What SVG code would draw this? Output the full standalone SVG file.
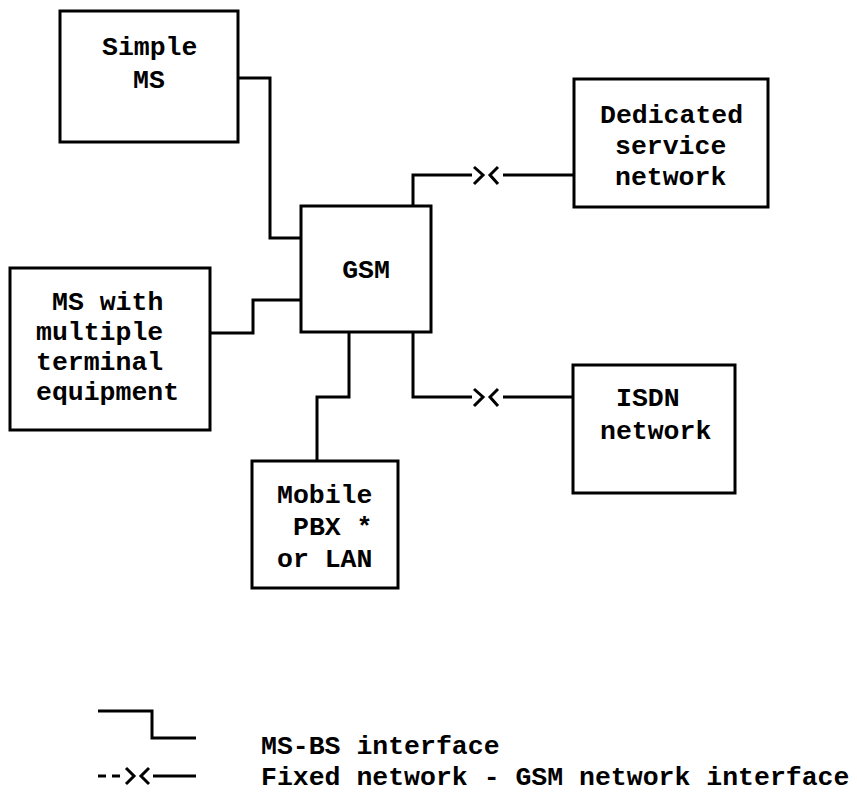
<svg xmlns="http://www.w3.org/2000/svg" width="857" height="795" viewBox="0 0 857 795">
<style>
.box{fill:#fff;stroke:#000;stroke-width:3}
.ln{fill:none;stroke:#000;stroke-width:3;stroke-linejoin:miter}
text{font-family:"Liberation Mono","Courier New",monospace;font-size:26.5px;font-weight:bold;fill:#000}
</style>
<rect width="857" height="795" fill="#fff"/>
<g id="connectors">
<path class="ln" d="M238,78 H270 V238 H301"/>
<path class="ln" d="M210,333 H253 V300 H301"/>
<path class="ln" d="M349,332 V397 H317 V461"/>
<path class="ln" d="M413,206 V175 H472"/>
<path class="ln" d="M474,167 L483,175 L474,184"/>
<path class="ln" d="M498,167 L490,175 L498,184"/>
<path class="ln" d="M503,175 H574"/>
<path class="ln" d="M413,332 V397 H472"/>
<path class="ln" d="M474,389 L483,397 L474,406"/>
<path class="ln" d="M498,389 L490,397 L498,406"/>
<path class="ln" d="M503,397 H573"/>
</g>
<g id="simple-ms"><rect class="box" x="60" y="11" width="178" height="131"/><text x="102" y="55">Simple</text><text x="133" y="88">MS</text></g>
<g id="ms-multiple"><rect class="box" x="10" y="268" width="200" height="162"/><text x="52" y="310">MS with</text><text x="36" y="340">multiple</text><text x="36" y="370">terminal</text><text x="36" y="400">equipment</text></g>
<g id="gsm"><rect class="box" x="301" y="206" width="130" height="126"/><text x="366" y="278" text-anchor="middle">GSM</text></g>
<g id="mobile-pbx"><rect class="box" x="252" y="461" width="146" height="127"/><text x="277" y="503">Mobile</text><text x="293" y="535">PBX *</text><text x="277" y="567">or LAN</text></g>
<g id="dedicated"><rect class="box" x="574" y="79" width="194" height="128"/><text x="600" y="123">Dedicated</text><text x="615" y="154">service</text><text x="615" y="185">network</text></g>
<g id="isdn"><rect class="box" x="573" y="365" width="162" height="128"/><text x="616" y="406">ISDN</text><text x="600" y="439">network</text></g>
<g id="legend">
<path class="ln" d="M98,711 H152 V738 H196"/>
<path class="ln" d="M98,776 H106 M112,776 H120"/>
<path class="ln" d="M126,768 L134,776 L126,784"/>
<path class="ln" d="M149,768 L141,776 L149,784"/>
<path class="ln" d="M153,776 H196"/>
<text x="261" y="754">MS-BS interface</text>
<text x="261" y="785">Fixed network - GSM network interface</text>
</g>
</svg>
